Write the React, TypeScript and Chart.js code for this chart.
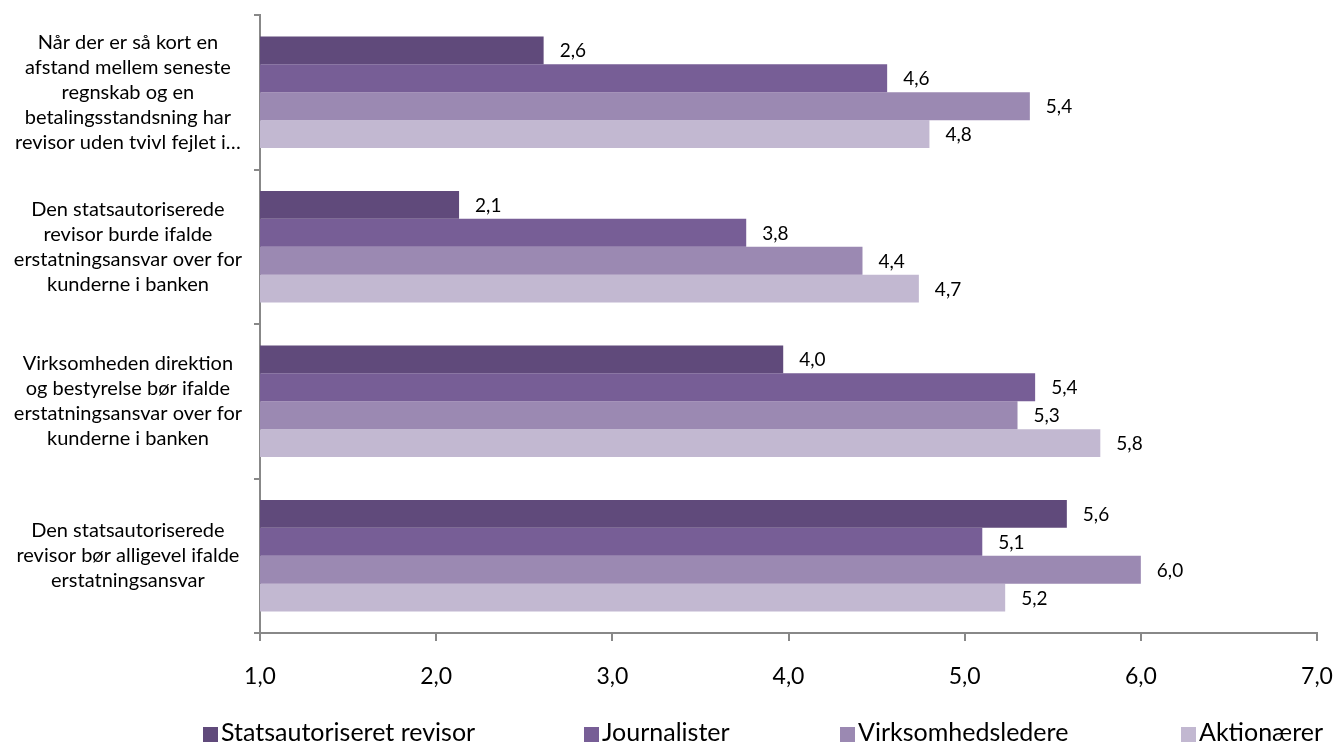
import { useEffect, useRef } from 'react';
import { Chart, registerables } from 'chart.js';

Chart.register(...registerables);

const categories: string[][] = [
  ['Når der er så kort en', 'afstand mellem seneste', 'regnskab og en', 'betalingsstandsning har', 'revisor uden tvivl fejlet i…'],
  ['Den statsautoriserede', 'revisor burde ifalde', 'erstatningsansvar over for', 'kunderne i banken'],
  ['Virksomheden direktion', 'og bestyrelse bør ifalde', 'erstatningsansvar over for', 'kunderne i banken'],
  ['Den statsautoriserede', 'revisor bør alligevel ifalde', 'erstatningsansvar'],
];

const seriesNames = ['Statsautoriseret revisor', 'Journalister', 'Virksomhedsledere', 'Aktionærer'];
const statsautoriseret = [2.61, 2.13, 3.97, 5.58];
const journalister = [4.56, 3.76, 5.4, 5.1];
const virksomhedsledere = [5.37, 4.42, 5.3, 6.0];
const aktionaerer = [4.8, 4.74, 5.77, 5.23];
const xTickValues = [1, 2, 3, 4, 5, 6, 7];

const colors = ['#604A7B', '#775E96', '#9B89B2', '#C2B8D1'];
const FONT = 'Lato, "Open Sans", sans-serif';

const fmt = (v: number) => v.toFixed(1).replace('.', ',');

const dataLabelPlugin = {
  id: 'barValueLabels',
  afterDatasetsDraw(chart: any) {
    const ctx = chart.ctx;
    ctx.save();
    ctx.font = `19px ${FONT}`;
    ctx.fillStyle = '#000000';
    ctx.textAlign = 'left';
    ctx.textBaseline = 'middle';
    chart.data.datasets.forEach((ds: any, di: number) => {
      const meta = chart.getDatasetMeta(di);
      meta.data.forEach((el: any, i: number) => {
        ctx.fillText(fmt(ds.data[i]), el.x + 16, el.y + 1);
      });
    });
    ctx.restore();
  },
};

const legendPlugin = {
  id: 'customLegend',
  afterDraw(chart: any) {
    const ctx = chart.ctx;
    const xs = [203, 584, 840, 1181];
    ctx.save();
    ctx.font = `25px ${FONT}`;
    ctx.textBaseline = 'alphabetic';
    ctx.textAlign = 'left';
    chart.data.datasets.forEach((ds: any, i: number) => {
      ctx.fillStyle = ds.backgroundColor;
      ctx.fillRect(xs[i], 727, 15, 15);
      ctx.fillStyle = '#000000';
      ctx.fillText(ds.label, xs[i] + 18, 741);
    });
    ctx.restore();
  },
};

export default function App() {
  const ref = useRef<HTMLCanvasElement | null>(null);

  useEffect(() => {
    if (!ref.current) return;
    const series = [statsautoriseret, journalister, virksomhedsledere, aktionaerer];
    const chart = new Chart(ref.current, {
      type: 'bar',
      data: {
        labels: categories,
        datasets: series.map((d, i) => ({
          label: seriesNames[i],
          data: d,
          backgroundColor: colors[i],
          borderWidth: 0,
          categoryPercentage: 0.723,
          barPercentage: 1,
        })),
      },
      options: {
        indexAxis: 'y',
        animation: false,
        responsive: false,
        maintainAspectRatio: false,
        layout: { padding: { top: 15, right: 20, bottom: 0, left: 0 } },
        plugins: {
          legend: { display: false },
          tooltip: { enabled: false },
        },
        scales: {
          x: {
            type: 'linear',
            min: 1,
            max: 7,
            afterBuildTicks: (scale: any) => {
              scale.ticks = xTickValues.map((v) => ({ value: v }));
            },
            afterFit: (scale: any) => {
              scale.height = 112;
              scale.paddingLeft = 0;
              scale.paddingRight = 0;
            },
            border: { display: true, color: '#888888', width: 2 },
            grid: {
              drawOnChartArea: false,
              drawTicks: true,
              tickLength: 8,
              color: '#888888',
              lineWidth: 2,
            },
            ticks: {
              padding: 22,
              color: '#000000',
              font: { family: FONT, size: 23 },
              callback: (v: any) => fmt(Number(v)),
              maxRotation: 0,
              autoSkip: false,
            },
          },
          y: {
            type: 'category',
            offset: true,
            afterFit: (scale: any) => {
              scale.width = 260;
              scale.paddingTop = 0;
              scale.paddingBottom = 0;
            },
            border: { display: true, color: '#888888', width: 2 },
            grid: {
              offset: true,
              drawOnChartArea: false,
              drawTicks: true,
              tickLength: 6,
              color: '#888888',
              lineWidth: 2,
            },
            ticks: {
              crossAlign: 'center',
              padding: 12,
              color: '#000000',
              font: { family: FONT, size: 20, lineHeight: '25px' },
              autoSkip: false,
            },
          },
        },
      },
      plugins: [dataLabelPlugin, legendPlugin],
    } as any);
    return () => chart.destroy();
  }, []);

  return (
    <div style={{ position: 'absolute', left: 0, top: 0, width: 1337, height: 745 }}>
      <canvas ref={ref} width={1337} height={745} style={{ display: 'block', width: 1337, height: 745 }} />
    </div>
  );
}
